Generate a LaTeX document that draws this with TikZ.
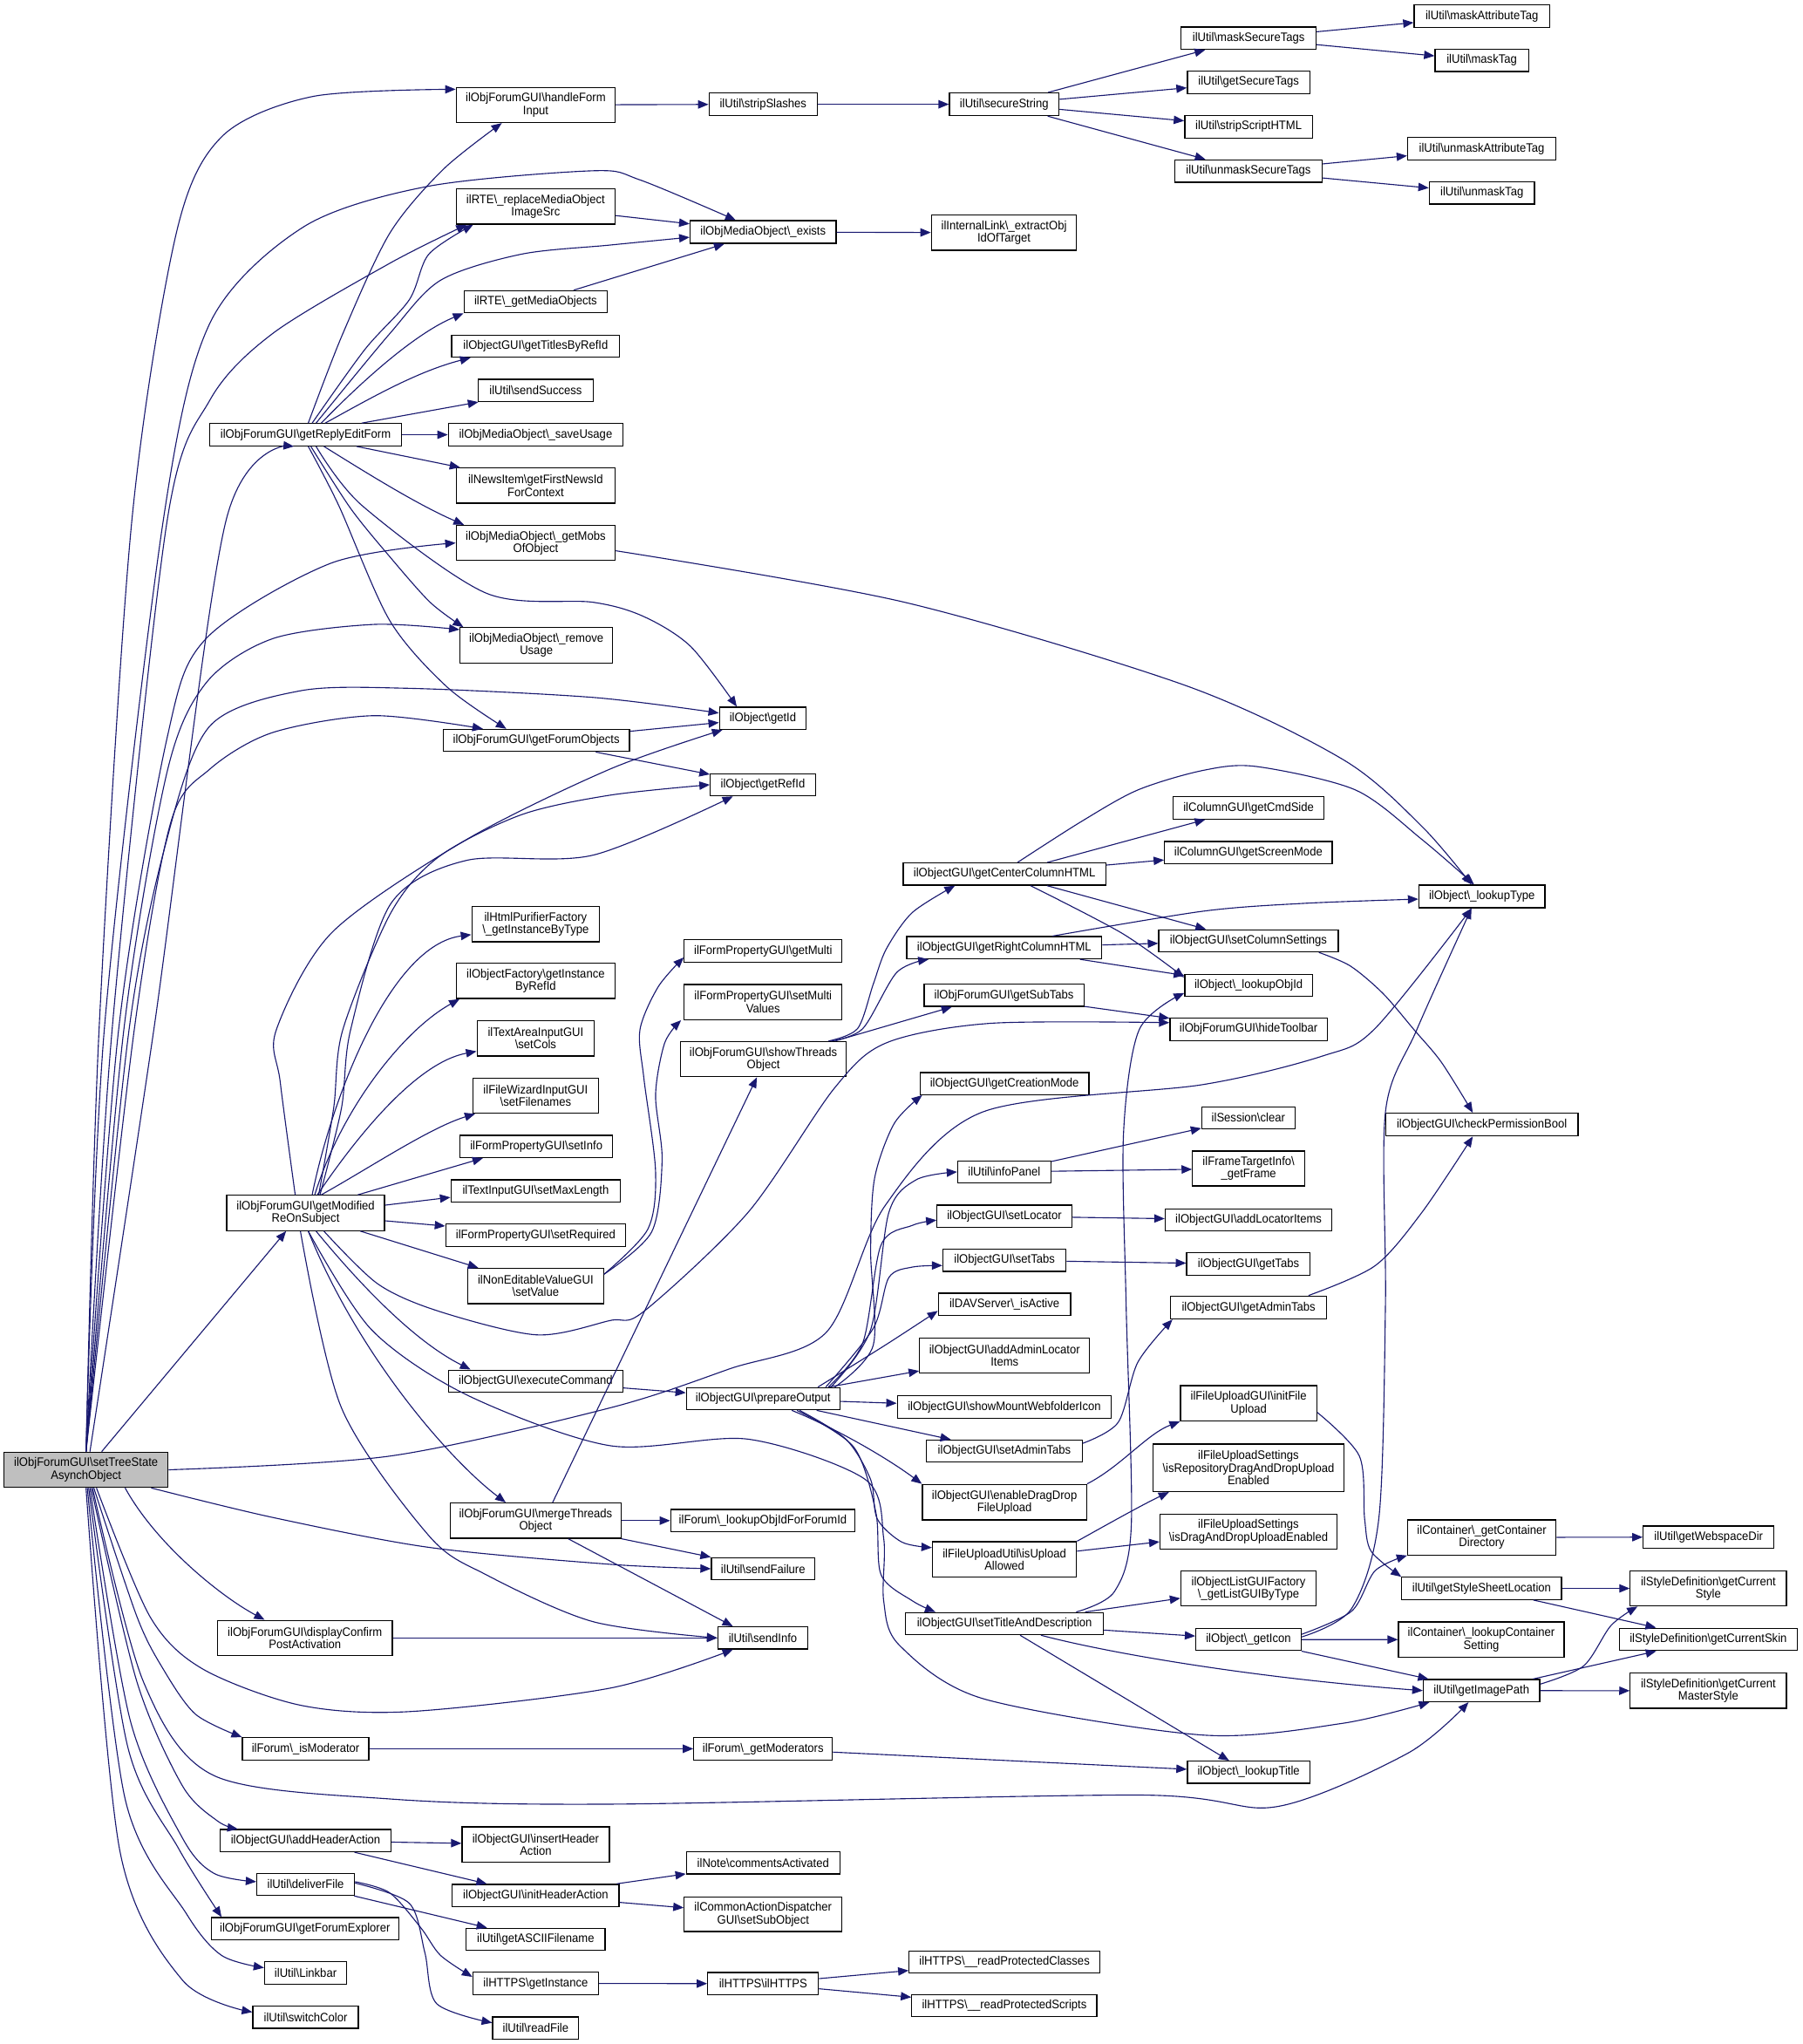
\documentclass[tikz,border=0pt]{standalone}
\usepackage{fontspec}
\setmainfont{Liberation Sans}[FakeStretch=0.93]
\usetikzlibrary{arrows.meta}
\newcommand\bsl{\textbackslash}
\definecolor{edgecol}{HTML}{191970}
\definecolor{rootfill}{HTML}{BFBFBF}
\newcommand\nd[6]{\node[nbox, minimum width=#4pt, minimum height=#5pt] (#1) at (#2,#3) {#6};}
\begin{document}
\begin{tikzpicture}[x=1pt,y=-1pt,
  nbox/.style={draw=black, line width=0.85pt, fill=white, inner sep=0pt, align=center, font=\fontsize{9.4}{9.6}\selectfont},
  e/.style={draw=edgecol, line width=0.75pt, -{Triangle[length=8pt,width=6.4pt]}, fill=none}]
\fill[white] (0,0) rectangle (1383,1568);
\useasboundingbox (0,0) rectangle (1383,1568);
% column 0
\node[nbox, fill=rootfill, minimum width=126pt, minimum height=27pt] (S) at (66,1127.5) {ilObjForumGUI\bsl{}setTreeState\\AsynchObject};
% column 1
\nd{R}{234.5}{333.5}{147}{17}{ilObjForumGUI\bsl{}getReplyEditForm}
\nd{M}{234.5}{930.5}{121}{27}{ilObjForumGUI\bsl{}getModified\\ReOnSubject}
\nd{DC}{234}{1256.5}{134}{27}{ilObjForumGUI\bsl{}displayConfirm\\PostActivation}
\nd{IM}{234.5}{1341.5}{97}{17}{ilForum\bsl\_isModerator}
\nd{AHA}{234.5}{1412}{131}{17}{ilObjectGUI\bsl{}addHeaderAction}
\nd{DF}{234.5}{1445.5}{75}{17}{ilUtil\bsl{}deliverFile}
\nd{FE}{234}{1479.5}{144}{17}{ilObjForumGUI\bsl{}getForumExplorer}
\nd{LB}{234.5}{1513.5}{63}{17}{ilUtil\bsl{}Linkbar}
\nd{SC}{234.5}{1547.5}{81}{17}{ilUtil\bsl{}switchColor}
% column 2
\nd{HF}{411}{80.5}{122}{27}{ilObjForumGUI\bsl{}handleForm\\Input}
\nd{RMO}{411}{158.5}{122}{27}{ilRTE\bsl\_replaceMediaObject\\ImageSrc}
\nd{GMO}{411}{231.5}{110}{17}{ilRTE\bsl\_getMediaObjects}
\nd{GT}{411}{265.5}{129}{17}{ilObjectGUI\bsl{}getTitlesByRefId}
\nd{SS}{411}{299.5}{88}{17}{ilUtil\bsl{}sendSuccess}
\nd{SU}{411}{333.5}{134}{17}{ilObjMediaObject\bsl\_saveUsage}
\nd{FN}{411}{372.5}{122}{27}{ilNewsItem\bsl{}getFirstNewsId\\ForContext}
\nd{MOB}{411}{416.5}{122}{27}{ilObjMediaObject\bsl\_getMobs\\OfObject}
\nd{RU}{411.5}{495}{117}{27}{ilObjMediaObject\bsl\_remove\\Usage}
\nd{FO}{411.5}{568}{143}{17}{ilObjForumGUI\bsl{}getForumObjects}
\nd{HP}{411}{709}{98}{27}{ilHtmlPurifierFactory\\\bsl\_getInstanceByType}
\nd{OF}{411}{752.5}{122}{27}{ilObjectFactory\bsl{}getInstance\\ByRefId}
\nd{TA}{411}{796.5}{90}{27}{ilTextAreaInputGUI\\\bsl{}setCols}
\nd{FW}{411}{840.5}{96}{27}{ilFileWizardInputGUI\\\bsl{}setFilenames}
\nd{SI}{411.5}{879.5}{117}{17}{ilFormPropertyGUI\bsl{}setInfo}
\nd{ML}{411}{913.5}{130}{17}{ilTextInputGUI\bsl{}setMaxLength}
\nd{SR}{411}{947.5}{138}{17}{ilFormPropertyGUI\bsl{}setRequired}
\nd{NE}{411}{986.5}{104}{27}{ilNonEditableValueGUI\\\bsl{}setValue}
\nd{EC}{411}{1059.5}{134}{17}{ilObjectGUI\bsl{}executeCommand}
\nd{MT}{411}{1166.5}{131}{27}{ilObjForumGUI\bsl{}mergeThreads\\Object}
\nd{IHA}{411}{1415}{113}{27}{ilObjectGUI\bsl{}insertHeader\\Action}
\nd{INIT}{411}{1454}{128}{17}{ilObjectGUI\bsl{}initHeaderAction}
\nd{ASC}{411}{1487.7}{106.5}{17}{ilUtil\bsl{}getASCIIFilename}
\nd{HGI}{411}{1521.5}{96.4}{17}{ilHTTPS\bsl{}getInstance}
\nd{RF}{411}{1555.7}{66}{17}{ilUtil\bsl{}readFile}
% column 3
\nd{SSL}{585.5}{80}{83}{17.4}{ilUtil\bsl{}stripSlashes}
\nd{EX}{585.5}{178}{112}{17.4}{ilObjMediaObject\bsl\_exists}
\nd{GID}{585.3}{551}{66.6}{17}{ilObject\bsl{}getId}
\nd{GRID}{585.3}{602}{80.6}{17}{ilObject\bsl{}getRefId}
\nd{GMU}{585.5}{729.5}{121}{17}{ilFormPropertyGUI\bsl{}getMulti}
\nd{SMV}{585.5}{768.7}{121}{27}{ilFormPropertyGUI\bsl{}setMulti\\Values}
\nd{STO}{585.7}{812.5}{127.4}{27}{ilObjForumGUI\bsl{}showThreads\\Object}
\nd{PO}{585.5}{1073}{117.7}{17}{ilObjectGUI\bsl{}prepareOutput}
\nd{LOF}{585.3}{1166.5}{141.4}{17}{ilForum\bsl\_lookupObjIdForForumId}
\nd{SF}{585.5}{1203.4}{79.4}{17}{ilUtil\bsl{}sendFailure}
\nd{SIN}{585.3}{1256.5}{69}{17}{ilUtil\bsl{}sendInfo}
\nd{GMD}{585.5}{1341.5}{106.3}{17}{ilForum\bsl\_getModerators}
\nd{CA}{585.5}{1429}{117.7}{17}{ilNote\bsl{}commentsActivated}
\nd{CAD}{585.5}{1468.5}{121}{26.5}{ilCommonActionDispatcher\\GUI\bsl{}setSubObject}
\nd{HH}{585.5}{1521.7}{85}{17}{ilHTTPS\bsl{}ilHTTPS}
% column 4
\nd{SEC}{770.5}{80}{84}{17.4}{ilUtil\bsl{}secureString}
\nd{EOT}{770.3}{178.5}{111.4}{27}{ilInternalLink\bsl\_extractObj\\IdOfTarget}
\nd{GCC}{770.7}{670.5}{155.4}{17}{ilObjectGUI\bsl{}getCenterColumnHTML}
\nd{GRC}{770.5}{727}{149.7}{17}{ilObjectGUI\bsl{}getRightColumnHTML}
\nd{GST}{770.3}{763.5}{122.6}{17}{ilObjForumGUI\bsl{}getSubTabs}
\nd{GCM}{770.7}{831.2}{129.5}{17}{ilObjectGUI\bsl{}getCreationMode}
\nd{IP}{770.5}{899}{71.4}{17}{ilUtil\bsl{}infoPanel}
\nd{SL}{770.6}{933}{103.3}{17}{ilObjectGUI\bsl{}setLocator}
\nd{ST}{770.7}{966.8}{94.5}{17}{ilObjectGUI\bsl{}setTabs}
\nd{DAV}{770.7}{1000.6}{101.5}{17}{ilDAVServer\bsl\_isActive}
\nd{AAL}{770.8}{1040}{130.4}{26.6}{ilObjectGUI\bsl{}addAdminLocator\\Items}
\nd{SMW}{770.6}{1079.3}{164.3}{17}{ilObjectGUI\bsl{}showMountWebfolderIcon}
\nd{SAT}{770.6}{1113.2}{119.3}{17}{ilObjectGUI\bsl{}setAdminTabs}
\nd{EDD}{770.7}{1152.3}{126}{27.2}{ilObjectGUI\bsl{}enableDragDrop\\FileUpload}
\nd{IUA}{770.7}{1196.2}{110.6}{27}{ilFileUploadUtil\bsl{}isUpload\\Allowed}
\nd{STD}{770.7}{1245.5}{151.8}{17}{ilObjectGUI\bsl{}setTitleAndDescription}
\nd{RPC}{770.7}{1505}{146.4}{17}{ilHTTPS\bsl\_\_readProtectedClasses}
\nd{RPS}{770.6}{1538.6}{142}{17}{ilHTTPS\bsl\_\_readProtectedScripts}
% column 5
\nd{MST}{958}{29.3}{103.5}{17.2}{ilUtil\bsl{}maskSecureTags}
\nd{GSE}{958}{63.1}{94}{17.2}{ilUtil\bsl{}getSecureTags}
\nd{SSH}{958}{97.2}{98}{17.2}{ilUtil\bsl{}stripScriptHTML}
\nd{UST}{957.9}{131.2}{112.8}{17.2}{ilUtil\bsl{}unmaskSecureTags}
\nd{GCS}{958}{619.7}{116}{17.2}{ilColumnGUI\bsl{}getCmdSide}
\nd{GSM}{957.8}{654}{128.5}{17}{ilColumnGUI\bsl{}getScreenMode}
\nd{SCS}{957.9}{721.7}{137.7}{17}{ilObjectGUI\bsl{}setColumnSettings}
\nd{LOI}{958}{755.8}{98}{17}{ilObject\bsl\_lookupObjId}
\nd{HT}{958}{789.5}{120.7}{17.4}{ilObjForumGUI\bsl{}hideToolbar}
\nd{SCL}{957.8}{857.5}{71.5}{17}{ilSession\bsl{}clear}
\nd{GF}{958}{896.4}{86}{26.8}{ilFrameTargetInfo\bsl\\\_getFrame}
\nd{ALI}{958}{935.8}{128}{17}{ilObjectGUI\bsl{}addLocatorItems}
\nd{GTB}{957.9}{969.7}{94.8}{17.4}{ilObjectGUI\bsl{}getTabs}
\nd{GAT}{958}{1003}{120}{17.6}{ilObjectGUI\bsl{}getAdminTabs}
\nd{IFU}{958}{1076.5}{104.6}{27}{ilFileUploadGUI\bsl{}initFile\\Upload}
\nd{IRD}{957.9}{1126}{146.7}{36.4}{ilFileUploadSettings\\\bsl{}isRepositoryDragAndDropUpload\\Enabled}
\nd{IDD}{957.9}{1175}{135.7}{27}{ilFileUploadSettings\\\bsl{}isDragAndDropUploadEnabled}
\nd{LGT}{957.9}{1218.5}{103.8}{27}{ilObjectListGUIFactory\\\bsl\_getListGUIByType}
\nd{GI}{957.9}{1257.7}{80.8}{17}{ilObject\bsl\_getIcon}
\nd{LT}{958}{1359.5}{94}{17}{ilObject\bsl\_lookupTitle}
\nd{MAT}{1137}{12.4}{104}{17.2}{ilUtil\bsl{}maskAttributeTag}
\nd{MTG}{1136.9}{46.3}{71.7}{17}{ilUtil\bsl{}maskTag}
\nd{UAT}{1136.9}{114}{113.8}{17.2}{ilUtil\bsl{}unmaskAttributeTag}
\nd{UMT}{1137}{148}{80.7}{17}{ilUtil\bsl{}unmaskTag}
% column 6
\nd{LTY}{1137}{687.7}{96.7}{17.4}{ilObject\bsl\_lookupType}
\nd{CPB}{1137}{862.7}{147.5}{17.4}{ilObjectGUI\bsl{}checkPermissionBool}
\nd{GCD}{1136.9}{1179.4}{113.8}{26.8}{ilContainer\bsl\_getContainer\\Directory}
\nd{GSS}{1136.8}{1218.5}{122.5}{17}{ilUtil\bsl{}getStyleSheetLocation}
\nd{LCS}{1136.5}{1257.8}{127}{27}{ilContainer\bsl\_lookupContainer\\Setting}
\nd{GIP}{1136.7}{1296.9}{89.4}{17}{ilUtil\bsl{}getImagePath}
% column 7
\nd{GWD}{1310.9}{1179.1}{100.3}{17}{ilUtil\bsl{}getWebspaceDir}
\nd{GCSt}{1310.7}{1218.5}{119.8}{27}{ilStyleDefinition\bsl{}getCurrent\\Style}
\nd{GCSk}{1310.7}{1257.6}{136.7}{17.2}{ilStyleDefinition\bsl{}getCurrentSkin}
\nd{GCMS}{1310.7}{1297}{119.8}{27}{ilStyleDefinition\bsl{}getCurrent\\MasterStyle}

% ===== edges from S =====
\draw[e] plot[smooth] coordinates {(S.north) (76,790) (101,401) (135,180) (170,105) (240,74) ([yshift=12pt]HF.west)};
\draw[e] plot[smooth] coordinates {(S.north) (80,790) (125,401) (161,248) (233,174) (328,143) (455,131) (491,138) ([xshift=-21pt]EX.north)};
\draw[e] plot[smooth] coordinates {(S.north) (86,790) (128,401) (161,307) (209,256) (299,202) ([xshift=-53pt]RMO.south)};
\draw[e] plot[smooth] coordinates {([xshift=3pt]S.north) (118,790) (173,401) ([xshift=-9pt]R.south)};
\draw[e] plot[smooth] coordinates {(S.north) (91,790) (128,567) (158,490) (254,432) (MOB.west)};
\draw[e] plot[smooth] coordinates {(S.north) (95,790) (128,593) (158,524) (209,490) (287,479) ([yshift=12pt]RU.west)};
\draw[e] plot[smooth] coordinates {(S.north) (99,790) (128,644) (161,557) (230,530) (313,528) (455,535) ([yshift=4pt]GID.west)};
\draw[e] plot[smooth] coordinates {(S.north) (103,790) (131,631) (161,590) (209,562) (287,549) ([xshift=-41pt]FO.north)};
\draw[e] ([xshift=12pt]S.north) -- ([xshift=-15pt]M.south);
\draw[e] plot[smooth] coordinates {(S.east) (299,1117) (468,1080) (560,1050) (634,1022) (679,925) (754,853) (923,832) (1015,810) (1055,789) ([xshift=-8pt]LTY.south)};
\draw[e] plot[smooth] coordinates {([xshift=50pt]S.south) (209,1164) (329,1187) (468,1200) (SF.west)};
\draw[e] ([xshift=30pt]S.south) .. controls (120,1185) and (170,1225) .. ([xshift=-31pt]DC.north);
\draw[e] plot[smooth] coordinates {([xshift=8pt]S.south) (115,1240) (155,1280) (230,1308) (314,1313) (468,1295) ([xshift=-23pt]SIN.south)};
\draw[e] plot[smooth] coordinates {([xshift=6pt]S.south) (105,1240) (125,1280) (150,1315) (IM.north west)};
\draw[e] plot[smooth] coordinates {([xshift=5pt]S.south) (110,1290) (164,1362) (299,1380) (468,1384) (873,1377) (979,1386) (1080,1345) ([xshift=-10pt]GIP.south)};
\draw[e] plot[smooth] coordinates {([xshift=4pt]S.south) (105,1290) (140,1370) (167,1397) ([xshift=-52pt]AHA.north)};
\draw[e] plot[smooth] coordinates {([xshift=3pt]S.south) (100,1320) (140,1410) (164,1437) ([yshift=2pt]DF.west)};
\draw[e] plot[smooth] coordinates {([xshift=2pt]S.south) (98,1340) (137,1418) ([xshift=-64pt]FE.north)};
\draw[e] plot[smooth] coordinates {([xshift=1pt]S.south) (96,1380) (143,1468) (170,1500) ([yshift=4pt]LB.west)};
\draw[e] plot[smooth] coordinates {(S.south) (92,1420) (140,1519) ([yshift=4pt]SC.west)};
% ===== edges from R =====
\draw[e] plot[smooth] coordinates {([xshift=2pt]R.north) (263,256) (299,179) (340,130) ([xshift=-26pt]HF.south)};
\draw[e] plot[smooth] coordinates {([xshift=5pt]R.north) (280,268) (314,230) (329,195) ([xshift=-48pt]RMO.south)};
\draw[e] plot[smooth] coordinates {([xshift=8pt]R.north) (299,256) (338,215) (400,195) (468,188) ([yshift=-4pt]EX.west)};
\draw[e] ([xshift=12pt]R.north) .. controls (280,290) and (320,255) .. (GMO.south west);
\draw[e] ([xshift=15pt]R.north) .. controls (285,305) and (320,285) .. ([xshift=-50pt]GT.south);
\draw[e] ([xshift=43pt]R.north) -- ([xshift=-44pt]SS.south);
\draw[e] (R.east) -- (SU.west);
\draw[e] ([xshift=39pt]R.south) -- ([xshift=-58pt]FN.north);
\draw[e] ([xshift=14pt]R.south) .. controls (280,362) and (320,387) .. ([xshift=-55pt]MOB.north);
\draw[e] plot[smooth] coordinates {([xshift=4pt]R.south) (269,390) (299,427) (330,462) ([xshift=-56pt]RU.north)};
\draw[e] plot[smooth] coordinates {([xshift=2pt]R.south) (260,388) (299,476) (343,527) ([xshift=-23pt]FO.north)};
\draw[e] plot[smooth] coordinates {([xshift=8pt]R.south) (278,388) (373,455) (455,462) (494,473) (530,496) ([xshift=-20pt]GID.north)};
% ===== column 2 =====
\draw[e] (HF) -- (SSL);
\draw[e] (RMO) -- (EX);
\draw[e] (GMO) -- (EX);
\draw[e] plot[smooth] coordinates {([yshift=-6pt]MOB.east) (694,462) (910,526) (1031,583) (1091,634) ([xshift=-8pt]LTY.north)};
\draw[e] (FO) -- (GID);
\draw[e] (FO) -- (GRID);
\draw[e] plot[smooth] coordinates {([yshift=9pt]NE.east) (497,943) (503,899) (494,827) (491,790) (505,757) ([yshift=-5pt]GMU.west)};
\draw[e] plot[smooth] coordinates {([yshift=9pt]NE.east) (500,945) (508,890) (503,840) (510,800) ([xshift=-2pt]SMV.south west)};
\draw[e] (EC) -- (PO);
\draw[e] ([xshift=13pt]MT.north) -- ([xshift=-5pt]STO.south);
\draw[e] (MT) -- (LOF);
\draw[e] (MT.south east) -- (SF.north west);
\draw[e] ([xshift=25pt]MT.south) -- ([xshift=-23pt]SIN.north);
\draw[e] (DC) -- (SIN);
\draw[e] (IM) -- (GMD);
\draw[e] (GMD) -- (LT);
\draw[e] (AHA) -- (IHA);
\draw[e] (AHA) -- (INIT);
\draw[e] (INIT) -- (CA);
\draw[e] (INIT) -- (CAD);
\draw[e] (DF) -- (ASC);
\draw[e] plot[smooth] coordinates {([yshift=2pt]DF.east) (299,1452) (323,1479) (338,1500) ([yshift=5pt]HGI.west)};
\draw[e] plot[smooth] coordinates {([yshift=1pt]DF.east) (314,1460) (326,1498) (335,1537) ([yshift=4pt]RF.west)};
\draw[e] (HGI) -- (HH);
\draw[e] (HH) -- (RPC);
\draw[e] (HH) -- (RPS);
% ===== from M =====
\draw[e] plot[smooth] coordinates {([xshift=-8pt]M.north) (215,830) (212,790) (255,715) (358,644) (468,590) ([xshift=-31pt]GID.south)};
\draw[e] plot[smooth] coordinates {([xshift=10pt]M.north) (256,850) (263,790) (300,700) (337,657) (400,625) (468,610) (GRID.west)};
\draw[e] plot[smooth] coordinates {([xshift=11pt]M.north) (262,850) (269,790) (300,693) (358,660) (455,656) ([xshift=-23pt]GRID.south)};
\draw[e] ([xshift=5pt]M.north) .. controls (255,840) and (300,725) .. ([yshift=-8pt]HP.west);
\draw[e] ([xshift=7pt]M.north) .. controls (262,850) and (310,790) .. ([xshift=3pt]OF.south west);
\draw[e] ([xshift=9pt]M.north) .. controls (275,870) and (320,815) .. ([yshift=-10pt]TA.west);
\draw[e] ([xshift=12pt]M.north) .. controls (285,895) and (330,865) .. ([xshift=2pt]FW.south west);
\draw[e] ([xshift=40pt]M.north) -- ([xshift=-41pt]SI.south);
\draw[e] ([yshift=6pt]M.east) -- ([yshift=-5pt]ML.west);
\draw[e] ([yshift=-6pt]M.east) -- ([yshift=7pt]SR.west);
\draw[e] ([xshift=42pt]M.south) -- ([xshift=-44pt]NE.north);
\draw[e] ([xshift=8pt]M.south) .. controls (280,990) and (320,1030) .. ([xshift=-50pt]EC.north);
\draw[e] ([xshift=2pt]M.south) .. controls (275,1040) and (345,1120) .. ([xshift=-23pt]MT.north);
\draw[e] plot[smooth] coordinates {([xshift=-4pt]M.south) (262,1080) (329,1178) (373,1208) (455,1244) (SIN.west)};
\draw[e] plot[smooth] coordinates {([xshift=14pt]M.south) (290,985) (337,1006) (412,1024) (468,1013) (494,1006) (574,930) (640,835) (680,800) (760,785) ([yshift=5pt]HT.west)};
\draw[e] plot[smooth] coordinates {([xshift=2pt]M.south) (285,1020) (358,1070) (468,1109) (574,1104) (664,1135) (678,1180) (678,1228) (690,1262) (754,1303) (923,1331) (1030,1322) ([xshift=-40pt]GIP.south)};
% ===== column 3/4 =====
\draw[e] (SSL) -- (SEC);
\draw[e] (SEC) -- (MST);
\draw[e] (SEC) -- (GSE);
\draw[e] (SEC) -- (SSH);
\draw[e] (SEC) -- (UST);
\draw[e] (MST) -- (MAT);
\draw[e] (MST) -- (MTG);
\draw[e] (UST) -- (UAT);
\draw[e] (UST) -- (UMT);
\draw[e] (EX) -- (EOT);
\draw[e] plot[smooth] coordinates {([xshift=50pt]STO.north) (658,789) (670,755) (680,728) (700,700) ([xshift=-38pt]GCC.south)};
\draw[e] plot[smooth] coordinates {([xshift=52pt]STO.north) (662,789) (688,746) ([xshift=-58pt]GRC.south)};
\draw[e] ([xshift=55pt]STO.north) -- ([xshift=-40pt]GST.south);
\draw[e] plot[smooth] coordinates {([xshift=10pt]GCC.north) (830,630) (873,606) (923,591) (964,588) (1040,606) (1091,644) ([xshift=-6pt]LTY.north)};
\draw[e] (GCC) -- (GCS);
\draw[e] (GCC) -- (GSM);
\draw[e] (GCC) -- (SCS);
\draw[e] plot[smooth] coordinates {([xshift=20pt]GCC.south) (861,716) ([yshift=6pt]LOI.west)};
\draw[e] plot[smooth] coordinates {([xshift=37pt]GRC.north) (923,699) (1000,693) ([yshift=-2pt]LTY.west)};
\draw[e] (GRC) -- (SCS);
\draw[e] (GRC) -- (LOI);
\draw[e] plot[smooth] coordinates {([xshift=54pt]SCS.south) (1036,741) (1061,762) (1085,790) (1106,815) ([xshift=-7pt]CPB.north)};
\draw[e] (GST) -- (HT);
% prepareOutput
\draw[e] plot[smooth] coordinates {([xshift=55pt]PO.north) (670,1032) (668,960) (671,904) (686,862) ([xshift=2pt]GCM.south west)};
\draw[e] plot[smooth] coordinates {([xshift=52pt]PO.north) (668,1020) (682,930) (703,905) (IP.west)};
\draw[e] plot[smooth] coordinates {([xshift=50pt]PO.north) (662,1030) (676,955) (700,940) ([yshift=-3pt]SL.west)};
\draw[e] plot[smooth] coordinates {([xshift=48pt]PO.north) (670,1019) (682,980) (700,972) ([yshift=-4pt]ST.west)};
\draw[e] plot[smooth] coordinates {([xshift=42pt]PO.north) (679,1032) ([yshift=-5pt]DAV.west)};
\draw[e] (PO) -- (AAL);
\draw[e] (PO) -- (SMW);
\draw[e] (PO) -- (SAT);
\draw[e] ([xshift=22pt]PO.south) .. controls (640,1095) and (680,1118) .. (EDD.north west);
\draw[e] plot[smooth] coordinates {([xshift=28pt]PO.south) (649,1104) (668,1135) (673,1165) (692,1183) ([yshift=9pt]IUA.west)};
\draw[e] plot[smooth] coordinates {([xshift=26pt]PO.south) (655,1110) (672,1160) (676,1208) (700,1228) ([xshift=-53pt]STD.north)};
\draw[e] (IP) -- (SCL);
\draw[e] (IP) -- (GF);
\draw[e] (SL) -- (ALI);
\draw[e] (ST) -- (GTB);
\draw[e] plot[smooth] coordinates {([yshift=6pt]SAT.east) (858,1091) (873,1045) ([xshift=2pt]GAT.south west)};
\draw[e] plot[smooth] coordinates {([xshift=46pt]GAT.north) (1055,971) (1091,930) ([xshift=-7pt]CPB.south)};
\draw[e] (EDD.north east) .. controls (860,1125) and (880,1100) .. (IFU.south west);
\draw[e] (IUA.north east) .. controls (845,1172) and (875,1155) .. ([xshift=-61pt]IRD.south);
\draw[e] (IUA) -- (IDD);
\draw[e] plot[smooth] coordinates {([yshift=-7pt]IFU.east) (1043,1117) (1047,1165) (1052,1190) (GSS.north west)};
\draw[e] plot[smooth] coordinates {([xshift=55pt]STD.north) (855,1221) (868,1170) (864,1000) (862,870) (874,790) ([yshift=-6pt]LOI.west)};
\draw[e] (STD) -- (LGT);
\draw[e] (STD) -- (GI);
\draw[e] ([xshift=28pt]STD.south) .. controls (850,1268) and (960,1287) .. (GIP.west);
\draw[e] ([xshift=12pt]STD.south) -- ([xshift=-15pt]LT.north);
\draw[e] plot[smooth] coordinates {([yshift=4pt]GI.east) (1037,1236) (1055,1205) (GCD.south west)};
\draw[e] plot[smooth] coordinates {([yshift=2pt]GI.east) (1037,1234) (1058,1164) (1063,1000) (1063,853) (1087,790) ([xshift=-8pt]LTY.south)};
\draw[e] (GI) -- (LCS);
\draw[e] (GI) -- (GIP);
\draw[e] (GCD) -- (GWD);
\draw[e] (GSS) -- (GCSt);
\draw[e] (GSS) -- (GCSk);
\draw[e] plot[smooth] coordinates {([yshift=5pt]GIP.east) (1215,1278) (1236,1247) ([xshift=6pt]GCSt.south west)};
\draw[e] (GIP) -- (GCSk);
\draw[e] (GIP) -- (GCMS);
\end{tikzpicture}
\end{document}
